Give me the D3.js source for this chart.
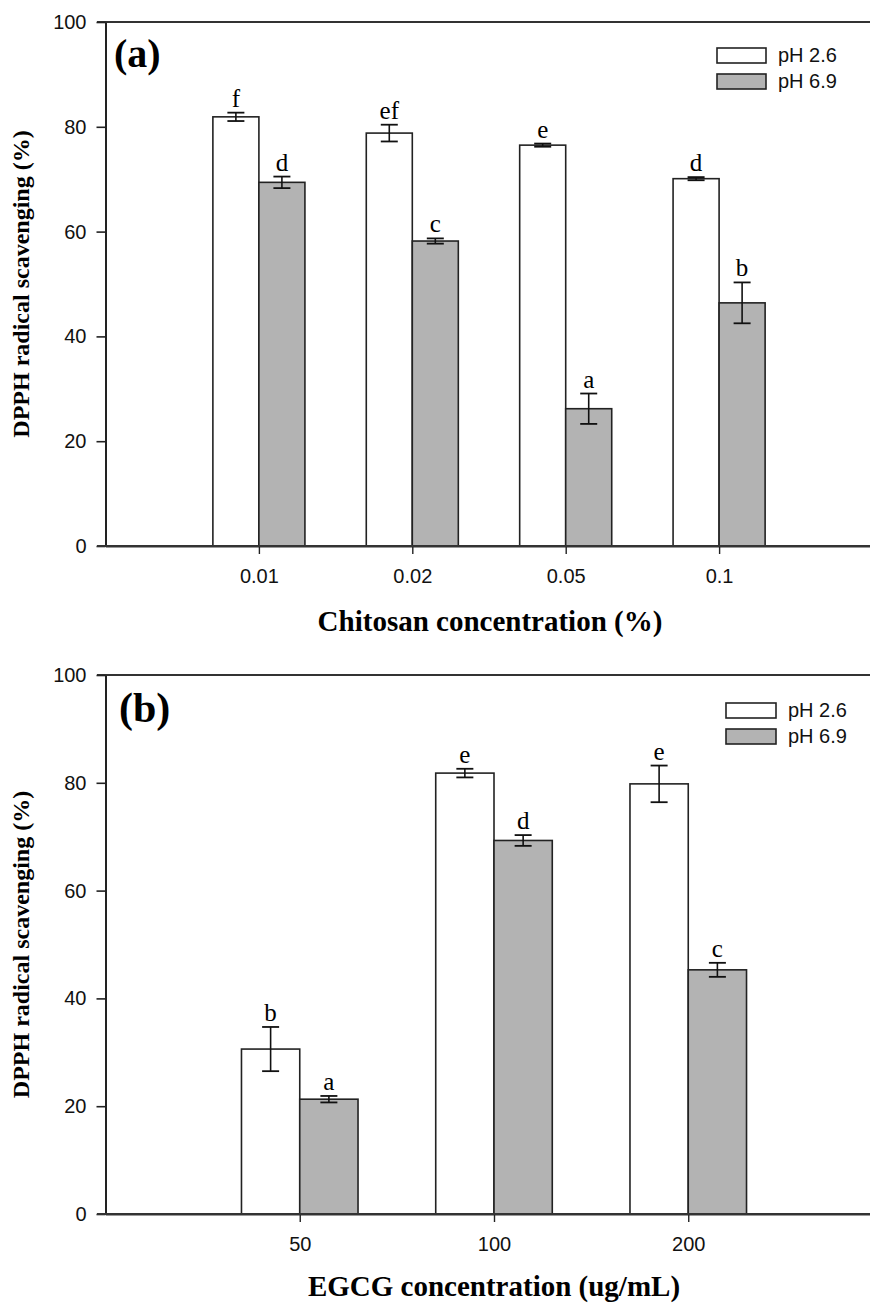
<!DOCTYPE html>
<html>
<head>
<meta charset="utf-8">
<script src="https://cdn.jsdelivr.net/npm/d3@7"></script>
<style>
  body { margin: 0; background: #fff; }
  svg { display: block; }
</style>
</head>
<body>
<div id="chart"></div>
<script>
// panel (a) chitosan
const chitosanCats = ['0.01', '0.02', '0.05', '0.1']
const chitosanLow = [81.9, 78.8, 76.5, 70.1]
const chitosanLowErr = [0.8, 1.6, 0.3, 0.3]
const chitosanHigh = [69.4, 58.2, 26.2, 46.4]
const chitosanHighErr = [1.1, 0.5, 2.9, 3.9]
const chitosanLowLetters = ['f', 'ef', 'e', 'd']
const chitosanHighLetters = ['d', 'c', 'a', 'b']

// panel (b) EGCG
const egcgCats = ['50', '100', '200']
const egcgLow = [30.6, 81.8, 79.8]
const egcgLowErr = [4.1, 0.8, 3.4]
const egcgHigh = [21.3, 69.3, 45.3]
const egcgHighErr = [0.6, 1.0, 1.3]
const egcgLowLetters = ['b', 'e', 'e']
const egcgHighLetters = ['a', 'd', 'c']

const yTicks = [0, 20, 40, 60, 80, 100]
const seriesNames = ['pH 2.6', 'pH 6.9']
const fills = ['#ffffff', '#b3b3b3']

const W = 870
const H = 1303
const svg = d3.select('#chart').append('svg').attr('width', W).attr('height', H)

function panel (opt) {
  const g = svg.append('g')
  const n = opt.cats.length
  const x = d3.scaleLinear().domain([0, n + 1]).range([105.5, opt.xEnd])
  const y = d3.scaleLinear().domain([0, 100]).range([opt.bottom, opt.top])
  const bw = 0.3

  // bars: white ends at tick, grey starts at tick
  const series = [
    { vals: opt.low, errs: opt.lowErr, letters: opt.lowLetters, off: -bw, fill: fills[0] },
    { vals: opt.high, errs: opt.highErr, letters: opt.highLetters, off: 0, fill: fills[1] }
  ]
  series.forEach(s => {
    s.vals.forEach((v, i) => {
      const x0 = x(i + 1 + s.off)
      const x1 = x(i + 1 + s.off + bw)
      g.append('rect')
        .attr('x', x0).attr('y', y(v))
        .attr('width', x1 - x0).attr('height', y(0) - y(v))
        .attr('fill', s.fill).attr('stroke', '#222').attr('stroke-width', 1.6)
      const cx = (x0 + x1) / 2
      const e = s.errs[i]
      const cap = 8.5
      g.append('line').attr('x1', cx).attr('x2', cx).attr('y1', y(v + e)).attr('y2', y(v - e))
        .attr('stroke', '#111').attr('stroke-width', 1.6)
      ;[v + e, v - e].forEach(t => {
        g.append('line').attr('x1', cx - cap).attr('x2', cx + cap).attr('y1', y(t)).attr('y2', y(t))
          .attr('stroke', '#111').attr('stroke-width', 1.8)
      })
      g.append('text')
        .attr('x', cx).attr('y', y(v + e) - 6)
        .attr('text-anchor', 'middle')
        .attr('font-family', 'Liberation Serif, Times New Roman, serif')
        .attr('font-size', 25)
        .text(s.letters[i])
    })
  })

  // top frame line
  g.append('line').attr('x1', 97).attr('x2', W).attr('y1', y(100)).attr('y2', y(100))
    .attr('stroke', '#333').attr('stroke-width', 2)

  // y axis
  const yAxis = g.append('g').attr('transform', 'translate(' + x(0) + ',0)')
    .call(d3.axisLeft(y).tickValues(yTicks).tickSize(9).tickPadding(10).tickSizeOuter(0))
  yAxis.select('.domain').attr('stroke', '#222').attr('stroke-width', 2)
  yAxis.selectAll('.tick line').attr('stroke', '#222').attr('stroke-width', 1.6)
  yAxis.selectAll('text').attr('font-family', 'Liberation Sans, Arial, sans-serif')
    .attr('font-size', 20).attr('fill', '#111')

  // x axis
  const xAxis = g.append('g').attr('transform', 'translate(0,' + y(0) + ')')
    .call(d3.axisBottom(x).tickValues(d3.range(1, n + 1))
      .tickFormat(d => opt.cats[d - 1]).tickSize(8).tickPadding(15).tickSizeOuter(0))
  xAxis.select('.domain').attr('stroke', '#333').attr('stroke-width', 2.2)
  xAxis.selectAll('.tick line').attr('stroke', '#222').attr('stroke-width', 1.4)
  xAxis.selectAll('text').attr('font-family', 'Liberation Sans, Arial, sans-serif')
    .attr('font-size', 20).attr('fill', '#111')

  // extend x axis line over the 0 tick to the left
  g.append('line').attr('x1', 97).attr('x2', W).attr('y1', y(0)).attr('y2', y(0))
    .attr('stroke', '#333').attr('stroke-width', 2.2)

  // panel label
  g.append('text')
    .attr('x', opt.labelX).attr('y', opt.labelY)
    .attr('font-family', 'Liberation Serif, Times New Roman, serif')
    .attr('font-weight', 'bold').attr('font-size', opt.labelSize)
    .text(opt.label)

  // legend
  seriesNames.forEach((name, i) => {
    g.append('rect')
      .attr('x', opt.legX).attr('y', opt.legY + i * 26)
      .attr('width', opt.legW).attr('height', 15)
      .attr('fill', fills[i]).attr('stroke', '#222').attr('stroke-width', 1.6)
    g.append('text')
      .attr('x', opt.legX + opt.legW + 12).attr('y', opt.legY + i * 26 + 14)
      .attr('font-family', 'Liberation Sans, Arial, sans-serif')
      .attr('font-size', 20).attr('fill', '#111')
      .text(name)
  })

  // axis titles
  g.append('text')
    .attr('transform', 'translate(29,' + (opt.top + opt.bottom) / 2 + ') rotate(-90)')
    .attr('text-anchor', 'middle')
    .attr('font-family', 'Liberation Serif, Times New Roman, serif')
    .attr('font-weight', 'bold').attr('font-size', 24)
    .text('DPPH radical scavenging (%)')
  g.append('text')
    .attr('x', opt.xTitleX).attr('y', opt.xTitleY)
    .attr('text-anchor', 'middle')
    .attr('font-family', 'Liberation Serif, Times New Roman, serif')
    .attr('font-weight', 'bold').attr('font-size', 29)
    .text(opt.xTitle)
}

panel({
  cats: chitosanCats, low: chitosanLow, lowErr: chitosanLowErr, high: chitosanHigh, highErr: chitosanHighErr,
  lowLetters: chitosanLowLetters, highLetters: chitosanHighLetters,
  top: 22, bottom: 546, xEnd: 872.5,
  label: '(a)', labelX: 114, labelY: 67, labelSize: 40,
  legX: 717, legY: 48, legW: 49,
  xTitle: 'Chitosan concentration (%)', xTitleX: 490, xTitleY: 631
})

panel({
  cats: egcgCats, low: egcgLow, lowErr: egcgLowErr, high: egcgHigh, highErr: egcgHighErr,
  lowLetters: egcgLowLetters, highLetters: egcgHighLetters,
  top: 675, bottom: 1214, xEnd: 882.5,
  label: '(b)', labelX: 119, labelY: 722, labelSize: 42,
  legX: 726, legY: 703, legW: 50,
  xTitle: 'EGCG concentration (ug/mL)', xTitleX: 494, xTitleY: 1296
})
</script>
</body>
</html>
